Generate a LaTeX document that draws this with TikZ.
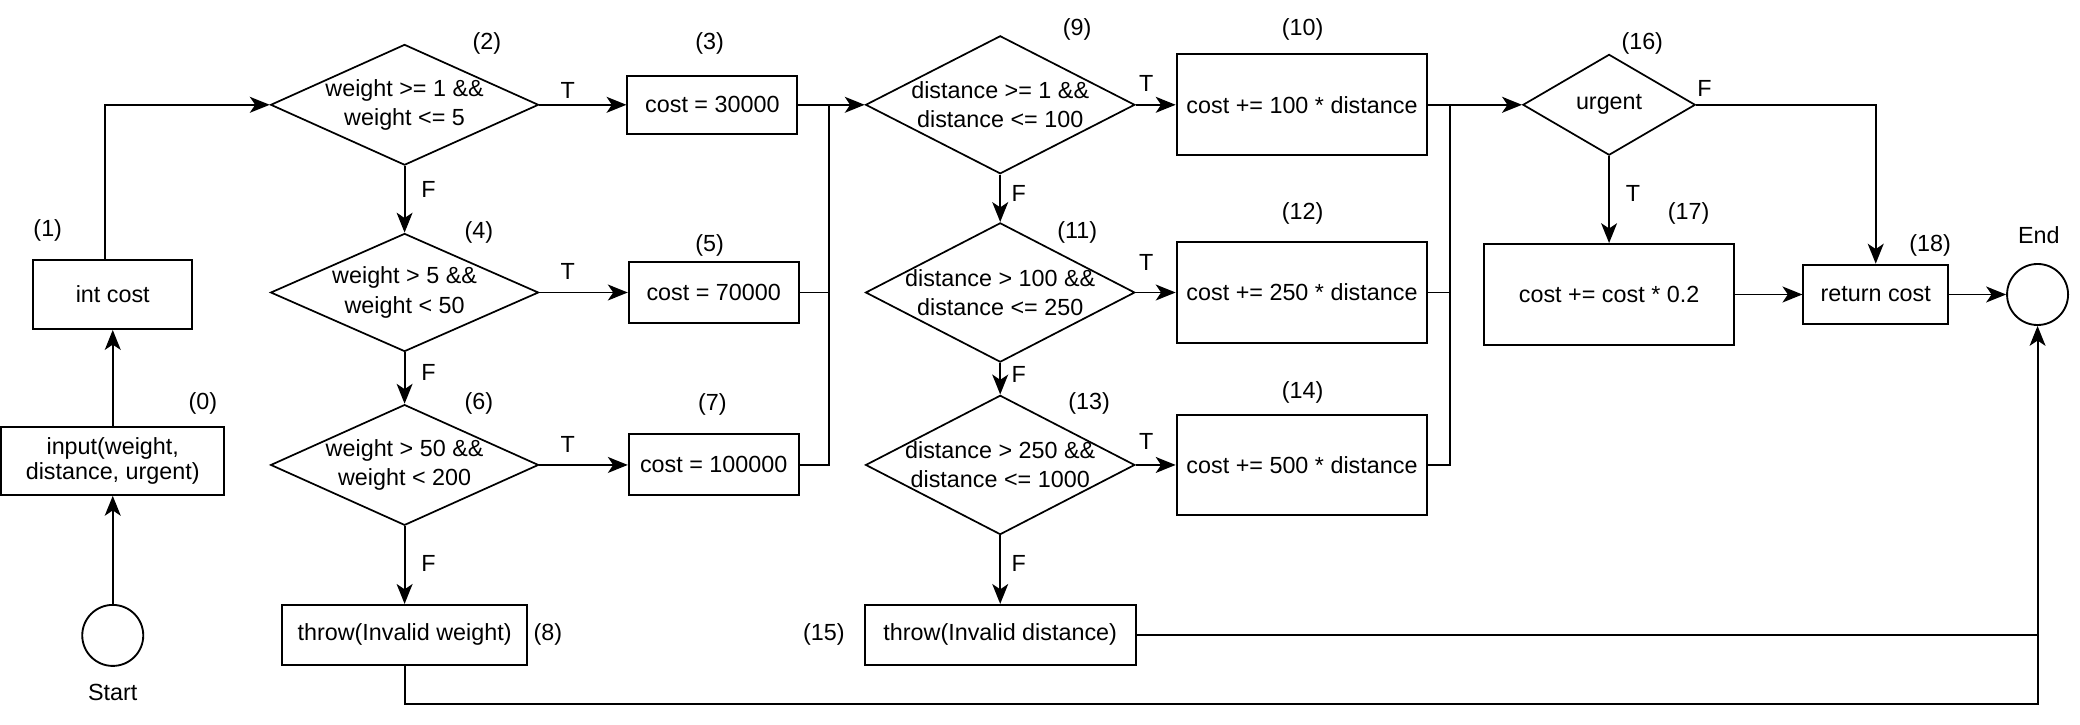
\documentclass[tikz,border=0pt]{standalone}
\usepackage{fontspec}
\setmainfont{Liberation Sans}
\usetikzlibrary{shapes.geometric,arrows.meta}
\begin{document}
\begin{tikzpicture}[x=1pt,y=-1pt,
  font=\fontsize{17.6}{22}\selectfont,
  every node/.style={inner sep=0pt},
  box/.style={draw, line width=1.5pt, align=center, fill=white},
  dia/.style={draw, diamond, line width=1.3pt, inner sep=0pt},
  txt/.style={align=center},
  lbl/.style={},
  term/.style={draw, circle, line width=1.4pt, minimum size=46pt},
  arr/.style={line width=1.4pt, -{Stealth[length=15pt,width=12pt,inset=4pt]}},
  ln/.style={line width=1.4pt}]
\useasboundingbox (0,0) rectangle (1568,546);

% start / end
\node[term] (start) at (85,479) {};
\node[lbl] (startl) at (85,522) {Start};
\node[term] (end) at (1536,222) {};
\node[lbl] (endl) at (1537,177) {End};

% left column
\node[box, minimum width=168pt, minimum height=51pt] (n0) at (85,347.5) {input(weight,\\[-3pt]distance, urgent)};
\node[lbl] at (153,304) {(0)};
\node[box, minimum width=120pt, minimum height=52pt] (n1) at (85,222) {int cost};
\node[lbl] at (36,174) {(1)};

% weight diamonds
\node[dia, minimum width=202pt, minimum height=91pt] (n2) at (305,79) {};
\node[txt] at (n2) {weight >= 1 \&\&\\weight <= 5};
\node[lbl] at (367,33) {(2)};
\node[dia, minimum width=202pt, minimum height=89pt] (n4) at (305,220.5) {};
\node[txt] at (n4) {weight > 5 \&\&\\weight < 50};
\node[lbl] at (361,175) {(4)};
\node[dia, minimum width=202pt, minimum height=91pt] (n6) at (305,350.5) {};
\node[txt] at (n6) {weight > 50 \&\&\\weight < 200};
\node[lbl] at (361,304) {(6)};
\node[box, minimum width=185pt, minimum height=45pt] (n8) at (305,478.5) {throw(Invalid weight)};
\node[lbl] at (413,478) {(8)};

% cost boxes
\node[box, minimum width=128pt, minimum height=44pt] (n3) at (537,79) {cost = 30000};
\node[lbl] at (535,33) {(3)};
\node[box, minimum width=128pt, minimum height=46pt] (n5) at (538,220.5) {cost = 70000};
\node[lbl] at (535,185) {(5)};
\node[box, minimum width=128pt, minimum height=46pt] (n7) at (538,350.5) {cost = 100000};
\node[lbl] at (537,305) {(7)};

% distance diamonds
\node[dia, minimum width=203pt, minimum height=104pt] (n9) at (754,79) {};
\node[txt] at (n9) {distance >= 1 \&\&\\distance <= 100};
\node[lbl] at (812,22) {(9)};
\node[dia, minimum width=203pt, minimum height=105pt] (n11) at (754,220.5) {};
\node[txt] at (n11) {distance > 100 \&\&\\distance <= 250};
\node[lbl] at (812,175) {(11)};
\node[dia, minimum width=203pt, minimum height=105pt] (n13) at (754,350.5) {};
\node[txt] at (n13) {distance > 250 \&\&\\distance <= 1000};
\node[lbl] at (821,304) {(13)};
\node[box, minimum width=204pt, minimum height=45pt] (n15) at (754,478.5) {throw(Invalid distance)};
\node[lbl] at (621,478) {(15)};

% distance cost boxes
\node[box, minimum width=189pt, minimum height=76pt] (n10) at (981.5,79) {cost += 100 * distance};
\node[lbl] at (982,22) {(10)};
\node[box, minimum width=189pt, minimum height=76pt] (n12) at (981.5,220.5) {cost += 250 * distance};
\node[lbl] at (982,161) {(12)};
\node[box, minimum width=189pt, minimum height=75pt] (n14) at (981.5,350.5) {cost += 500 * distance};
\node[lbl] at (982,296) {(14)};

% urgent
\node[dia, minimum width=130pt, minimum height=76pt] (n16) at (1213,79) {};
\node[txt] at (n16) {urgent};
\node[lbl] at (1238,33) {(16)};
\node[box, minimum width=189pt, minimum height=76pt] (n17) at (1213,222) {cost += cost * 0.2};
\node[lbl] at (1273,161) {(17)};
\node[box, minimum width=109pt, minimum height=45pt] (n18) at (1414,222) {return cost};
\node[lbl] at (1455,185) {(18)};

% merge points
\coordinate (m1) at (625,79);
\coordinate (m2) at (1093,79);
\coordinate (c8) at (1536,531);

% connectors
\draw[arr] (start) -- (n0);
\draw[arr] (n0) -- (n1);
\draw[arr] ([xshift=-6pt]n1.north) |- (n2.west);
\draw[arr] (n2.east) -- (n3.west);
\draw[arr] (n2.south) -- (n4.north);
\draw[arr] (n4.east) -- (n5.west);
\draw[arr] (n4.south) -- (n6.north);
\draw[arr] (n6.east) -- (n7.west);
\draw[arr] (n6.south) -- (n8.north);
\draw[arr] (n8.south) |- (c8) -- (end.south);

\draw[arr] (n3.east) -- (n9.west);
\draw[ln] (n5.east) -| (m1);
\draw[ln] (n7.east) -| (m1);

\draw[arr] (n9.east) -- (n10.west);
\draw[arr] (n9.south) -- (n11.north);
\draw[arr] (n11.east) -- (n12.west);
\draw[arr] (n11.south) -- (n13.north);
\draw[arr] (n13.east) -- (n14.west);
\draw[arr] (n13.south) -- (n15.north);
\draw[ln] (n15.east) -- (n15.east -| end.south);

\draw[arr] (n10.east) -- (n16.west);
\draw[ln] (n12.east) -| (m2);
\draw[ln] (n14.east) -| (m2);

\draw[arr] (n16.east) -| (n18.north);
\draw[arr] (n16.south) -- (n17.north);
\draw[arr] (n17.east) -- (n18.west);
\draw[arr] (n18.east) -- (end.west);

% T / F labels
\node[lbl] at (428,68) {T};
\node[lbl] at (428,205) {T};
\node[lbl] at (428,335) {T};
\node[lbl] at (323,143) {F};
\node[lbl] at (323,281) {F};
\node[lbl] at (323,425) {F};
\node[lbl] at (864,63) {T};
\node[lbl] at (864,198) {T};
\node[lbl] at (864,333) {T};
\node[lbl] at (768,146) {F};
\node[lbl] at (768,282) {F};
\node[lbl] at (768,425) {F};
\node[lbl] at (1285,67) {F};
\node[lbl] at (1231,146) {T};
\end{tikzpicture}
\end{document}
